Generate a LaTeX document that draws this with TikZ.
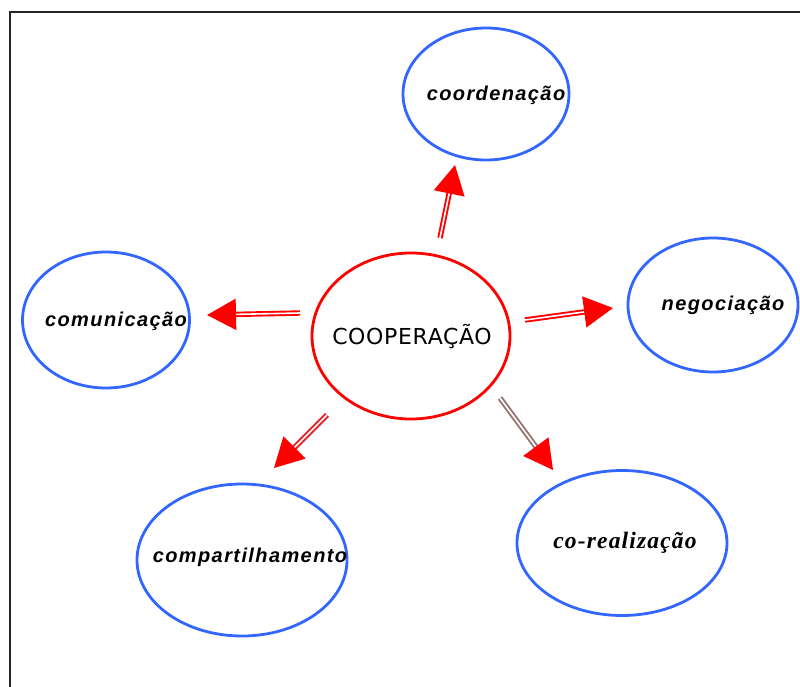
\documentclass[tikz,border=0pt]{standalone}
\usepackage{fontspec}
\setmainfont{Liberation Sans}
\newfontfamily\labelfont[LetterSpace=7]{Liberation Sans}
\newfontfamily\seriflabel[LetterSpace=5]{Liberation Serif}
\newfontfamily\centerfont[LetterSpace=3]{DejaVu Sans}
\usetikzlibrary{shapes.geometric,arrows.meta}
\definecolor{ringblue}{RGB}{51,102,255}
\definecolor{shaftgray}{RGB}{150,115,115}
\tikzset{
  ring/.style={ellipse, draw=ringblue, line width=2.8pt, inner sep=0pt},
  hub/.style={ellipse, draw=red, line width=2.8pt, inner sep=0pt},
  topic/.style={font=\labelfont\bfseries\itshape\fontsize{20}{24}\selectfont, inner sep=0pt},
  link/.style={draw=red, double=white, line width=1.9pt, double distance=1.6pt,
    -{Triangle[length=29pt,width=31pt,color=red]}},
  frameline/.style={draw=black!85, line width=2pt}
}
\begin{document}
\begin{tikzpicture}[x=1pt,y=-1pt]
\useasboundingbox (0,0) rectangle (800,687);
% frame edges (left and top)
\draw[frameline] (10,687) -- (10,12) -- (800,12);

% central concept and the five surrounding ones
\node[hub, minimum width=198pt, minimum height=166pt] (coop) at (411,336) {};
\node[ring, minimum width=166pt, minimum height=132pt] (coord) at (486,94) {};
\node[ring, minimum width=167pt, minimum height=136pt] (comm) at (106,320) {};
\node[ring, minimum width=170pt, minimum height=134pt] (nego) at (713,305) {};
\node[ring, minimum width=210pt, minimum height=152pt] (share) at (242,560) {};
\node[ring, minimum width=210pt, minimum height=145pt] (corel) at (622,543) {};

% labels
\node[inner sep=0pt, font=\centerfont\fontsize{22}{26}\selectfont] (tcoop) at (412,336) {COOPERAÇÃO};
\node[topic] (tcoord) at (496,95) {coordenação};
\node[topic] (tcomm) at (116,321) {comunicação};
\node[topic] (tnego) at (723,305) {negociação};
\node[topic] (tshare) at (250,557) {compartilhamento};
\node[inner sep=0pt, font=\seriflabel\bfseries\itshape\fontsize{23.5}{27}\selectfont] (tcorel) at (625,543) {co-realização};

% arrow ends
\coordinate (upS) at (440,238);   \coordinate (upT) at (455,165);
\coordinate (lfS) at (300,313);   \coordinate (lfT) at (207,315);
\coordinate (rtS) at (525,320);   \coordinate (rtT) at (613,308);
\coordinate (dlS) at (327,415);   \coordinate (dlT) at (274,468);
\coordinate (drS) at (500,398);   \coordinate (drT) at (553,470);

% arrows
\draw[link] (upS) -- (upT);
\draw[link] (lfS) -- (lfT);
\draw[link] (rtS) -- (rtT);
\draw[link, draw=red!75!gray] (dlS) -- (dlT);
\draw[link, draw=shaftgray] (drS) -- (drT);
\end{tikzpicture}
\end{document}
